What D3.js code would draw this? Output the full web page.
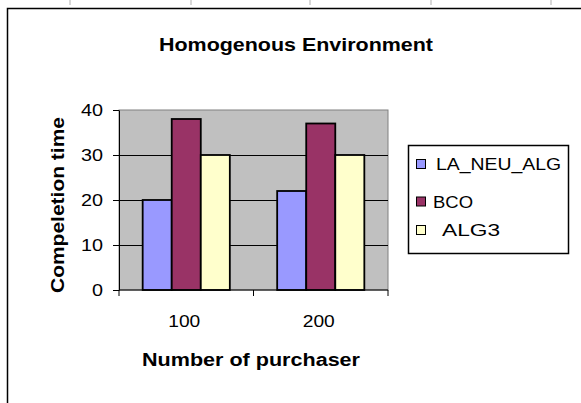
<!DOCTYPE html>
<html lang="en">
<head>
    <meta charset="UTF-8">
    <title>Homogenous Environment</title>
    <script src="https://d3js.org/d3.v7.min.js"></script>
    <style>
        html, body { margin: 0; padding: 0; background: #fff; }
        svg { display: block; font-family: Arial, "Liberation Sans", sans-serif; }
    </style>
</head>
<body>
    <svg width="581" height="403"></svg>

    <script>
        // Data
        const categories = ["100", "200"];
        const seriesNames = ["LA_NEU_ALG", "BCO", "ALG3"];
        const laNeuAlg = [20, 22];
        const bco = [38, 37];
        const alg3 = [30, 30];
        const yTicks = [0, 10, 20, 30, 40];

        const seriesValues = [laNeuAlg, bco, alg3];
        const colors = ["#9999ff", "#993366", "#ffffcc"];

        const width = 581;
        const height = 403;
        const svg = d3.select("svg");

        // Plot area
        const plot = { left: 119, right: 388, top: 110, bottom: 290 };

        // Spreadsheet grid marks above the chart frame
        [70, 191, 310, 431, 551].forEach(x => {
            svg.append("line")
                .attr("x1", x).attr("x2", x)
                .attr("y1", 0).attr("y2", 5)
                .attr("stroke", "#b0b0b0");
        });

        // Chart area frame (runs off the right and bottom edges)
        svg.append("rect")
            .attr("x", 7.5).attr("y", 8.5)
            .attr("width", width + 20).attr("height", height + 20)
            .attr("fill", "#fff")
            .attr("stroke", "#000")
            .attr("stroke-width", 1.5);

        const x0 = d3.scaleBand()
            .domain(categories)
            .range([plot.left, plot.right]);

        const x1 = d3.scaleBand()
            .domain(seriesNames)
            .range([x0.bandwidth() * 0.176, x0.bandwidth() * 0.824]);

        const y = d3.scaleLinear()
            .domain([0, 40])
            .range([plot.bottom, plot.top]);

        // Grey plot background
        svg.append("rect")
            .attr("x", plot.left).attr("y", plot.top)
            .attr("width", plot.right - plot.left)
            .attr("height", plot.bottom - plot.top)
            .attr("fill", "#c0c0c0")
            .attr("stroke", "#808080");

        // Gridlines
        svg.append("g")
            .selectAll("line")
            .data(yTicks.filter(d => d > 0 && d < 40))
            .enter().append("line")
            .attr("x1", plot.left).attr("x2", plot.right)
            .attr("y1", d => Math.round(y(d)) + 0.5)
            .attr("y2", d => Math.round(y(d)) + 0.5)
            .attr("stroke", "#000");

        // Bars
        const groups = svg.append("g")
            .selectAll("g")
            .data(categories)
            .enter().append("g")
            .attr("transform", d => `translate(${x0(d)},0)`);

        groups.selectAll("rect")
            .data((d, i) => seriesNames.map((s, j) => ({ s, j, v: seriesValues[j][i] })))
            .enter().append("rect")
            .attr("x", d => x1(d.s))
            .attr("y", d => y(d.v))
            .attr("width", x1.bandwidth())
            .attr("height", d => y(0) - y(d.v))
            .attr("fill", d => colors[d.j])
            .attr("stroke", "#000")
            .attr("stroke-width", 1.8);

        // Y axis
        const yAxis = svg.append("g")
            .attr("transform", `translate(${plot.left},0)`)
            .call(d3.axisLeft(y).tickValues(yTicks).tickSize(6).tickPadding(10).tickSizeOuter(0));
        yAxis.select(".domain").attr("stroke", "#000");
        yAxis.selectAll("text")
            .attr("font-size", 16)
            .attr("font-family", "Arial, 'Liberation Sans', sans-serif")
            .attr("fill", "#000")
            .attr("textLength", d => String(d).length * 11)
            .attr("lengthAdjust", "spacingAndGlyphs");

        // X axis with ticks at category boundaries
        const xAxis = svg.append("g")
            .attr("transform", `translate(0,${plot.bottom})`);
        xAxis.append("line")
            .attr("x1", plot.left).attr("x2", plot.right)
            .attr("stroke", "#000");
        xAxis.selectAll("line.tick")
            .data([plot.left, ...categories.map(c => x0(c) + x0.bandwidth())])
            .enter().append("line")
            .attr("class", "tick")
            .attr("x1", d => d).attr("x2", d => d)
            .attr("y1", 0).attr("y2", 6)
            .attr("stroke", "#000");
        xAxis.selectAll("text")
            .data(categories)
            .enter().append("text")
            .attr("x", d => x0(d) + x0.bandwidth() / 2 - 2)
            .attr("y", 37)
            .attr("text-anchor", "middle")
            .attr("font-size", 16)
            .attr("textLength", 32)
            .attr("lengthAdjust", "spacingAndGlyphs")
            .text(d => d);

        // Titles
        svg.append("text")
            .attr("x", 296).attr("y", 51)
            .attr("text-anchor", "middle")
            .attr("font-size", 18)
            .attr("font-weight", "bold")
            .attr("textLength", 274)
            .attr("lengthAdjust", "spacingAndGlyphs")
            .text("Homogenous Environment");

        svg.append("text")
            .attr("x", 251).attr("y", 366)
            .attr("text-anchor", "middle")
            .attr("font-size", 18)
            .attr("font-weight", "bold")
            .attr("textLength", 218)
            .attr("lengthAdjust", "spacingAndGlyphs")
            .text("Number of purchaser");

        svg.append("text")
            .attr("transform", "translate(64,205) rotate(-90)")
            .attr("text-anchor", "middle")
            .attr("font-size", 18)
            .attr("font-weight", "bold")
            .attr("textLength", 176)
            .attr("lengthAdjust", "spacingAndGlyphs")
            .text("Compeletion time");

        // Legend
        const legend = svg.append("g");
        legend.append("rect")
            .attr("x", 408.5).attr("y", 145.5)
            .attr("width", 160).attr("height", 108)
            .attr("fill", "#fff")
            .attr("stroke", "#000")
            .attr("stroke-width", 1.5);

        const rowY = [164, 201.5, 230];
        const labelW = [125, 40, 58];
        const labelX = [436, 433, 442];
        const items = legend.selectAll("g.item")
            .data(seriesNames)
            .enter().append("g")
            .attr("class", "item")
            .attr("transform", (d, i) => `translate(0,${rowY[i]})`);
        items.append("rect")
            .attr("x", 416.5).attr("y", -4.5)
            .attr("width", 9).attr("height", 9)
            .attr("fill", (d, i) => colors[i])
            .attr("stroke", "#000");
        items.append("text")
            .attr("x", (d, i) => labelX[i])
            .attr("y", 6)
            .attr("font-size", 16)
            .attr("textLength", (d, i) => labelW[i])
            .attr("lengthAdjust", "spacingAndGlyphs")
            .text(d => d);
    </script>
</body>
</html>
